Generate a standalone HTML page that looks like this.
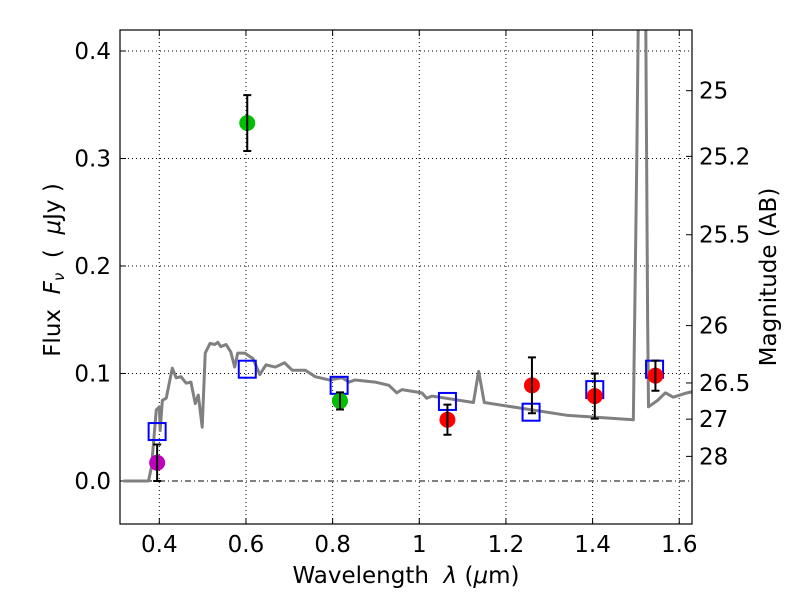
<!DOCTYPE html>
<html><head><meta charset="utf-8"><style>
body{margin:0;background:#fff}
svg text{font-family:"DejaVu Sans","Liberation Sans",sans-serif;fill:#000;white-space:pre}
</style></head><body>
<svg id="chart" width="800" height="600" viewBox="0 0 800 600"></svg>
<script>
const xTicks=[0.4,0.6,0.8,1.0,1.2,1.4,1.6];
const xTickLabels=["0.4","0.6","0.8","1","1.2","1.4","1.6"];
const yTicks=[0.0,0.1,0.2,0.3,0.4];
const yTickLabels=["0.0","0.1","0.2","0.3","0.4"];
const magTicks=[25,25.2,25.5,26,26.5,27,28];
const magTickLabels=["25","25.2","25.5","26","26.5","27","28"];
const specLam=[0.317,0.37,0.375,0.382,0.393,0.4,0.402,0.407,0.416,0.43,0.439,0.45,0.462,0.473,0.483,0.49,0.499,0.506,0.517,0.528,0.535,0.542,0.554,0.565,0.574,0.581,0.597,0.616,0.632,0.646,0.668,0.689,0.707,0.737,0.76,0.792,0.822,0.838,0.852,0.898,0.93,0.948,0.96,1.006,1.017,1.029,1.125,1.137,1.15,1.343,1.494,1.502,1.51,1.52,1.527,1.529,1.55,1.568,1.586,1.618,1.63];
const specFlux=[0,0,0,0.013,0.066,0.069,0.047,0.075,0.077,0.105,0.096,0.097,0.091,0.092,0.072,0.08,0.05,0.119,0.128,0.127,0.129,0.125,0.127,0.12,0.106,0.119,0.119,0.114,0.099,0.108,0.106,0.11,0.103,0.103,0.097,0.094,0.096,0.092,0.094,0.092,0.089,0.082,0.085,0.082,0.077,0.079,0.073,0.102,0.073,0.061,0.057,0.3,0.6,0.6,0.15,0.069,0.075,0.082,0.078,0.082,0.083];
const obsLam=[0.395,0.603,0.817,1.065,1.26,1.405,1.545];
const obsFlux=[0.017,0.333,0.0745,0.057,0.089,0.079,0.098];
const obsErr=[0.017,0.026,0.008,0.014,0.026,0.021,0.014];
const obsColor=["#bf00bf","#00bf00","#00bf00","#ff0000","#ff0000","#ff0000","#ff0000"];
const modLam=[0.395,0.603,0.815,1.065,1.258,1.405,1.543];
const modFlux=[0.046,0.104,0.089,0.074,0.064,0.085,0.104];

const L=120,R=692,T=30,B=524;
const X=v=>159.3+(v-0.4)*433.3;
const Y=v=>481-v*1075;
const NS="http://www.w3.org/2000/svg";
const svg=document.getElementById('chart');
function mk(tag,a,parent){const e=document.createElementNS(NS,tag);for(const k in a)e.setAttribute(k,a[k]);(parent||svg).appendChild(e);return e;}
const defs=mk('defs',{});const cp=mk('clipPath',{id:'clip'},defs);mk('rect',{x:L,y:T,width:R-L,height:B-T},cp);

xTicks.forEach((t,i)=>{
 const g=mk('line',{x1:X(t),x2:X(t),y1:T,y2:B,stroke:'#000','stroke-width':1,'stroke-dasharray':'1,3'});
 
 mk('line',{x1:X(t),x2:X(t),y1:B,y2:B-6,stroke:'#000'});mk('line',{x1:X(t),x2:X(t),y1:T,y2:T+6,stroke:'#000'});
 const tx=mk('text',{x:X(t),y:B+28,'text-anchor':'middle','font-size':23});tx.textContent=xTickLabels[i];
 
});
yTicks.forEach((t,i)=>{
 const g=mk('line',{x1:L,x2:R,y1:Y(t),y2:Y(t),stroke:'#000','stroke-width':1,'stroke-dasharray':t===0?'6,3,1,3':'1,3'});
 
 mk('line',{x1:L,x2:L+6,y1:Y(t),y2:Y(t),stroke:'#000'});
 const tx=mk('text',{x:L-9,y:Y(t)+8,'text-anchor':'end','font-size':23});tx.textContent=yTickLabels[i];
 
});
magTicks.forEach((m,i)=>{
 const y=Y(Math.pow(10,(23.9-m)/2.5));
 mk('line',{x1:R-6,x2:R,y1:y,y2:y,stroke:'#000'});
 const tx=mk('text',{x:R+7,y:y+8,'font-size':23});tx.textContent=magTickLabels[i];
 
});
const cg=mk('g',{'clip-path':'url(#clip)'});
const sp=mk('polyline',{points:specLam.map((l,i)=>X(l)+','+Y(specFlux[i])).join(' '),fill:'none',stroke:'#808080','stroke-width':3,'stroke-linejoin':'round'},cg);

modLam.forEach((l,i)=>{
 const r=mk('rect',{x:X(l)-8.5,y:Y(modFlux[i])-8.5,width:17,height:17,fill:'none',stroke:'#0000ff','stroke-width':2},cg);
 
});
obsLam.forEach((l,i)=>{
 const x=X(l),y=Y(obsFlux[i]);
 const c=mk('circle',{cx:x,cy:y,r:8,fill:obsColor[i]},cg);
 
 const y1=Y(obsFlux[i]+obsErr[i]),y2=Y(obsFlux[i]-obsErr[i]);
 const e=mk('path',{d:`M${x},${y1}V${y2}M${x-4},${y1}H${x+4}M${x-4},${y2}H${x+4}`,stroke:'#000','stroke-width':2,fill:'none'},cg);
 
});
const fr=mk('rect',{x:L,y:T,width:R-L,height:B-T,fill:'none',stroke:'#000','stroke-width':1.2});

const xl=mk('text',{x:406,y:583,'text-anchor':'middle','font-size':23});xl.innerHTML='Wavelength  <tspan font-style="italic">λ</tspan> (<tspan font-style="italic">μ</tspan>m)';

const yl=mk('text',{x:0,y:0,'text-anchor':'middle','font-size':23,transform:'translate(60,270) rotate(-90)'});yl.innerHTML='Flux  <tspan font-style="italic">F</tspan><tspan font-style="italic" font-size="15" dy="4">ν</tspan><tspan dy="-4">  (  </tspan><tspan font-style="italic">μ</tspan>Jy )';

const rl=mk('text',{x:0,y:0,'text-anchor':'middle','font-size':23,transform:'translate(776,277) rotate(-90)'});rl.textContent='Magnitude (AB)';

</script>
</body></html>
